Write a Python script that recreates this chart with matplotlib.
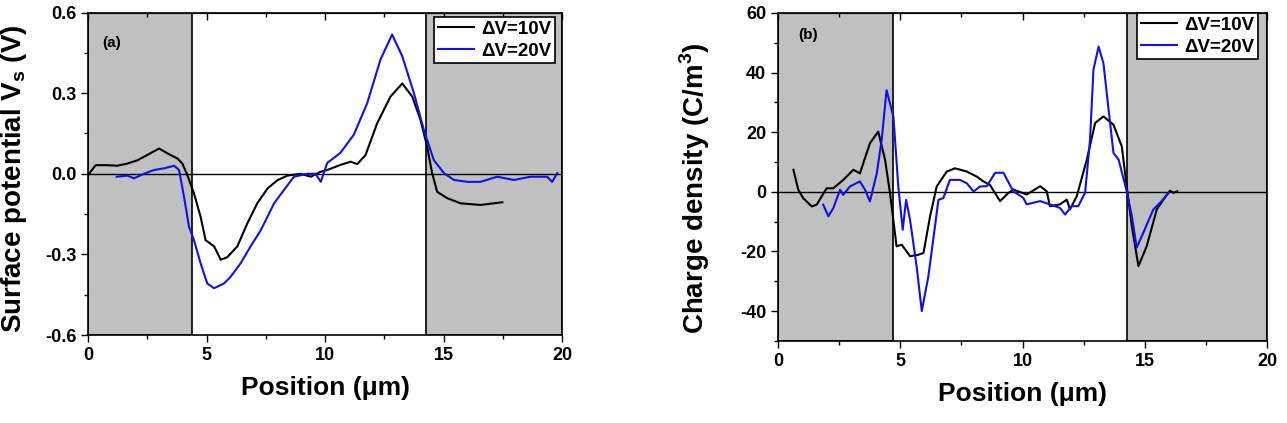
import matplotlib
matplotlib.use("Agg")
import matplotlib.pyplot as plt
from matplotlib.ticker import MultipleLocator

plt.rcParams['font.family'] = ['Liberation Sans', 'DejaVu Sans']
plt.rcParams['font.weight'] = 'bold'
plt.rcParams['axes.labelweight'] = 'bold'
plt.rcParams['mathtext.default'] = 'bf'
plt.rcParams['axes.unicode_minus'] = False

# (a) surface potential, dV = 10 V
a10_x = [0.0, 0.32, 0.82, 1.24, 1.66, 2.08, 2.5, 3.0, 3.35, 3.77, 3.98, 4.19, 4.47,
         4.75, 4.96, 5.32, 5.6, 5.88, 6.3, 6.72, 7.14, 7.57, 7.99, 8.41, 8.97, 9.4,
         9.8, 10.09, 10.65, 11.08, 11.36, 11.71, 12.2, 12.76, 13.26, 13.68, 14.03,
         14.31, 14.52, 14.73, 15.16, 15.72, 16.56, 17.48]
a10_y = [-0.005, 0.032, 0.032, 0.03, 0.038, 0.05, 0.07, 0.094, 0.076, 0.057, 0.038,
         -0.005, -0.073, -0.16, -0.247, -0.27, -0.32, -0.31, -0.27, -0.185, -0.11,
         -0.055, -0.024, -0.007, 0.0, -0.011, 0.007, 0.014, 0.033, 0.045, 0.036, 0.07,
         0.188, 0.287, 0.336, 0.287, 0.2, 0.1, 0.002, -0.067, -0.091, -0.11, -0.116,
         -0.106]

# (a) surface potential, dV = 20 V
a20_x = [1.21, 1.66, 1.94, 2.36, 2.78, 3.2, 3.63, 3.84, 4.05, 4.26, 4.47, 4.75, 5.03,
         5.32, 5.74, 6.02, 6.44, 6.86, 7.29, 7.85, 8.27, 8.69, 9.25, 9.6, 9.82, 10.09,
         10.65, 11.22, 11.78, 12.34, 12.83, 13.26, 13.75, 14.17, 14.59, 15.02, 15.44,
         16.0, 16.56, 17.26, 17.97, 18.67, 19.37, 19.58, 19.8]
a20_y = [-0.011, -0.007, -0.017, 0.0, 0.014, 0.02, 0.03, 0.014, -0.085, -0.197,
         -0.247, -0.333, -0.408, -0.426, -0.408, -0.383, -0.333, -0.27, -0.21, -0.11,
         -0.06, -0.011, 0.0, 0.0, -0.03, 0.04, 0.078, 0.146, 0.263, 0.425, 0.518,
         0.437, 0.3, 0.163, 0.051, 0.002, -0.023, -0.03, -0.03, -0.011, -0.023,
         -0.011, -0.011, -0.03, 0.002]

# (b) charge density, dV = 10 V
b10_x = [0.63, 0.83, 1.03, 1.38, 1.58, 1.99, 2.26, 2.67, 3.08, 3.35, 3.76, 4.1, 4.38,
         4.58, 4.85, 5.06, 5.4, 5.74, 5.95, 6.22, 6.49, 6.9, 7.24, 7.72, 8.13, 8.4,
         8.67, 8.95, 9.08, 9.42, 9.62, 10.17, 10.72, 10.99, 11.12, 11.53, 11.81,
         11.94, 12.22, 12.63, 12.97, 13.31, 13.72, 14.06, 14.26, 14.47, 14.74, 15.08,
         15.49, 15.76, 16.03, 16.17, 16.33]
b10_y = [7.4, 0.7, -2.1, -4.9, -4.3, 1.2, 1.2, 4.0, 7.4, 6.2, 16.3, 20.2, 10.7, -0.4,
         -18.3, -17.7, -21.6, -21.1, -20.5, -8.2, 1.8, 6.8, 7.9, 6.8, 5.1, 3.5, 2.3,
         -1.4, -3.1, -0.4, 0.8, -0.9, 1.9, 0.2, -4.8, -4.2, -2.6, -5.9, -1.4, 10.8,
         23.1, 25.3, 22.5, 15.2, 1.9, -11.5, -24.9, -18.2, -5.9, -2.6, 0.4, -0.3, 0.2]

# (b) charge density, dV = 20 V
b20_x = [1.85, 2.06, 2.26, 2.54, 2.67, 2.94, 3.35, 3.56, 3.76, 4.04, 4.24, 4.44, 4.72,
         4.92, 5.1, 5.24, 5.4, 5.67, 5.88, 6.15, 6.42, 6.56, 6.76, 7.03, 7.44, 7.72,
         8.0, 8.26, 8.54, 8.88, 9.22, 9.62, 10.03, 10.17, 10.72, 11.12, 11.53, 11.74,
         12.01, 12.28, 12.56, 12.76, 12.9, 13.11, 13.31, 13.52, 13.72, 13.93, 14.26,
         14.47, 14.67, 14.94, 15.35, 15.69, 15.97]
b20_y = [-4.3, -8.2, -5.5, 0.7, -1.0, 1.8, 3.5, 0.7, -3.2, 6.2, 17.4, 34.1, 25.2, 1.8,
         -12.7, -2.7, -9.4, -25.0, -40.0, -28.3, -11.6, -2.7, -2.1, 4.0, 4.0, 2.9,
         0.1, 1.8, 1.9, 6.4, 6.4, 0.2, -2.0, -4.2, -3.1, -4.2, -5.4, -7.6, -4.8, -4.8,
         -0.3, 17.4, 40.9, 48.7, 43.1, 27.5, 13.0, 10.8, 0.2, -8.1, -18.7, -13.7,
         -5.9, -3.1, -0.3]

labels = ['\u0394V=10V', '\u0394V=20V']
gray = '#c0c0c0'
blue = '#1010ee'


def style_axes(ax, xmaj, xmin, ymaj, ymin):
    ax.set_xlim(0, 20)
    ax.xaxis.set_major_locator(MultipleLocator(xmaj))
    ax.xaxis.set_minor_locator(MultipleLocator(xmin))
    ax.yaxis.set_major_locator(MultipleLocator(ymaj))
    ax.yaxis.set_minor_locator(MultipleLocator(ymin))
    ax.tick_params(which='both', direction='out', top=False, right=False,
                   labelsize=13, width=1)
    ax.tick_params(which='major', length=5)
    ax.tick_params(which='minor', length=3)
    sec = ax.secondary_xaxis('top')
    sec.xaxis.set_major_locator(MultipleLocator(xmaj))
    sec.xaxis.set_minor_locator(MultipleLocator(xmin))
    sec.tick_params(which='both', direction='in', labeltop=False, width=1)
    sec.tick_params(which='major', length=5)
    sec.tick_params(which='minor', length=3)
    for s in ax.spines.values():
        s.set_linewidth(1.2)
    ax.set_xlabel('Position (\u03bcm)', fontsize=19, labelpad=9)
    ax.axhline(0, color='k', lw=1, zorder=2)


def add_legend(ax, anchor):
    leg = ax.legend(loc='upper right', bbox_to_anchor=anchor, borderaxespad=0,
                    fontsize=13.5, fancybox=False, framealpha=1, edgecolor='k',
                    handlelength=1.9, handletextpad=0.4, borderpad=0.2,
                    labelspacing=0.25)
    leg.get_frame().set_linewidth(1.2)
    return leg


fig = plt.figure(figsize=(12.87, 4.23), dpi=100)
ax1 = fig.add_axes([0.0684, 0.208, 0.3683, 0.7624])
ax2 = fig.add_axes([0.6045, 0.194, 0.38, 0.7754])

# panel (a)
ax1.axvspan(0, 4.37, facecolor=gray, edgecolor='k', lw=1.2, zorder=0)
ax1.axvspan(14.25, 20, facecolor=gray, edgecolor='k', lw=1.2, zorder=0)
ax1.plot(a10_x, a10_y, color='black', lw=1.5, label=labels[0], zorder=3)
ax1.plot(a20_x, a20_y, color=blue, lw=1.5, label=labels[1], zorder=3)
ax1.set_ylim(-0.6, 0.6)
style_axes(ax1, 5, 2.5, 0.3, 0.15)
ax1.set_ylabel('Surface potential V$_\\mathregular{s}$ (V)', fontsize=20)
ax1.yaxis.set_label_coords(-0.125, 0.484)
ax1.text(0.59, 0.487, '(a)', fontsize=11, fontweight='bold', va='center')
add_legend(ax1, (0.985, 0.986))

# panel (b)
ax2.axvspan(0, 4.69, facecolor=gray, edgecolor='k', lw=1.2, zorder=0)
ax2.axvspan(14.27, 20, facecolor=gray, edgecolor='k', lw=1.2, zorder=0)
ax2.plot(b10_x, b10_y, color='black', lw=1.5, label=labels[0], zorder=3)
ax2.plot(b20_x, b20_y, color=blue, lw=1.5, label=labels[1], zorder=3)
ax2.set_ylim(-50, 60)
style_axes(ax2, 5, 2.5, 20, 10)
ax2.set_ylabel('Charge density (C/m$^\\mathregular{3}$)', fontsize=20)
ax2.yaxis.set_label_coords(-0.135, 0.465)
ax2.text(0.82, 52.6, '(b)', fontsize=11, fontweight='bold', va='center')
add_legend(ax2, (0.982, 1.0))

fig.savefig('out.png', dpi=100)
